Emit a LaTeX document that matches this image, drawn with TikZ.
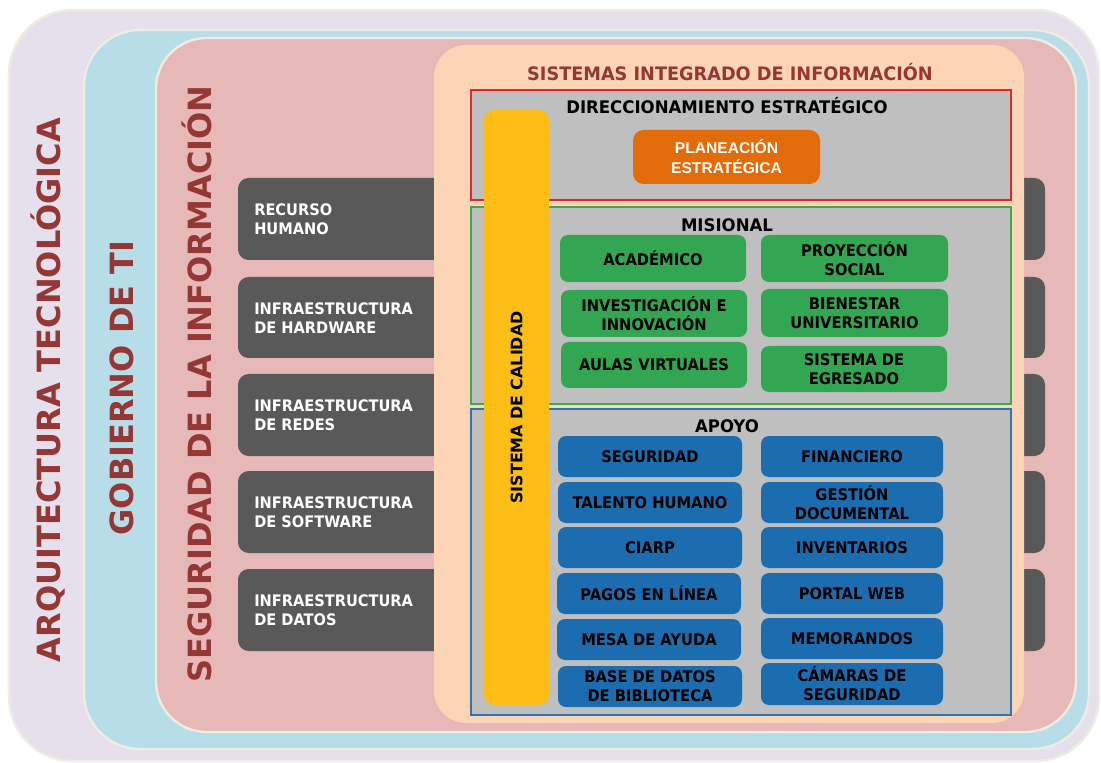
\documentclass[tikz,border=0pt]{standalone}
\usepackage{fontspec}
\setmainfont{DejaVu Sans}
\newfontfamily\arialfont{Liberation Sans}
\newfontfamily\lblfont{DejaVu Sans}[FakeStretch=0.92]
\newfontfamily\secfont{DejaVu Sans}[FakeStretch=0.955]
\usetikzlibrary{fit}
\definecolor{lav}{HTML}{E5E0EC}
\definecolor{cream}{HTML}{EEEDE0}
\definecolor{lblue}{HTML}{B7DEE8}
\definecolor{lpink}{HTML}{E6B8B7}
\definecolor{peach}{HTML}{FCD5B6}
\definecolor{dgray}{HTML}{595959}
\definecolor{dred}{HTML}{953735}
\definecolor{sgray}{HTML}{BFBFBF}
\definecolor{sred}{HTML}{E3262A}
\definecolor{sgreen}{HTML}{3BAA4C}
\definecolor{sblue}{HTML}{2E75B6}
\definecolor{gbox}{HTML}{33A654}
\definecolor{bbox}{HTML}{1C6CB0}
\definecolor{obox}{HTML}{E36C0A}
\definecolor{ybar}{HTML}{FBBD16}
\tikzset{
  layer/.style={inner sep=0pt, draw=cream, line width=1.8pt},
  rowbox/.style={inner sep=0pt, fill=dgray, rounded corners=8pt},
  rowtext/.style={anchor=west, align=left, text=white, inner sep=0pt, font=\lblfont\bfseries\fontsize{11.9}{14.25}\selectfont},
  section/.style={inner sep=0pt, fill=sgray, line width=1.4pt},
  sectitle/.style={inner sep=0pt, font=\secfont\bfseries\fontsize{13}{15}\selectfont},
  lbl/.style={inner sep=0pt, align=center, font=\lblfont\bfseries\fontsize{12}{14.25}\selectfont},
  gbx/.style={inner sep=0pt, fill=gbox, rounded corners=6pt, label={[lbl]center:{#1}}},
  bbx/.style={inner sep=0pt, fill=bbox, rounded corners=6pt, label={[lbl]center:{#1}}},
  bigtext/.style={rotate=90, text=dred, inner sep=0pt, font=\bfseries\fontsize{24}{28}\selectfont},
}
\begin{document}
\begin{tikzpicture}[x=0.75pt,y=-0.75pt]
\useasboundingbox (0,0) rectangle (1101,763);
\fill[white] (0,0) rectangle (1101,763);
% nested layers
\node[layer, fill=lav, rounded corners=48pt, fit={(9,10)(1099,761)}] (arq) {};
\node[layer, fill=lblue, rounded corners=42pt, fit={(84,30)(1089,749)}] (gob) {};
\node[layer, fill=lpink, rounded corners=38pt, fit={(156,38)(1076,732)}] (seg) {};
% gray rows (behind peach)
\node[rowbox, fit={(238,178)(1045,260)}] (r1) {};
\node[rowbox, fit={(238,277)(1045,358)}] (r2) {};
\node[rowbox, fit={(238,374)(1045,456)}] (r3) {};
\node[rowbox, fit={(238,471)(1045,553)}] (r4) {};
\node[rowbox, fit={(238,569)(1045,651)}] (r5) {};
\node[rowtext] (t1) at (254,219) {RECURSO\\HUMANO};
\node[rowtext] (t2) at (254,318) {INFRAESTRUCTURA\\DE HARDWARE};
\node[rowtext] (t3) at (254,415) {INFRAESTRUCTURA\\DE REDES};
\node[rowtext] (t4) at (254,512) {INFRAESTRUCTURA\\DE SOFTWARE};
\node[rowtext] (t5) at (254,610) {INFRAESTRUCTURA\\DE DATOS};
% peach
\node[inner sep=0pt, fill=peach, rounded corners=24pt, fit={(434,45)(1024,723)}] (sis) {};
\node[inner sep=0pt, text=dred, font=\secfont\bfseries\fontsize{13.9}{16}\selectfont] (sistitle) at (730,72) {SISTEMAS INTEGRADO DE INFORMACIÓN};
% vertical titles
\node[bigtext] (arqt) at (48,390) {ARQUITECTURA TECNOLÓGICA};
\node[bigtext] (gobt) at (122,388) {GOBIERNO DE TI};
\node[bigtext] (segt) at (197,384) {SEGURIDAD DE LA INFORMACIÓN};
% sections
\node[section, draw=sred, fit={(471,90)(1011,200)}] (dir) {};
\node[section, draw=sgreen, fit={(471,207)(1011,404)}] (mis) {};
\node[section, draw=sblue, fit={(471,409)(1011,715)}] (apo) {};
\node[sectitle] (dirt) at (727,106) {DIRECCIONAMIENTO ESTRATÉGICO};
\node[sectitle] (mist) at (727,225) {MISIONAL};
\node[sectitle] (apot) at (727,426) {APOYO};
% planeacion
\node[inner sep=0pt, fill=obox, rounded corners=8pt, fit={(633,130)(820,184)}, label={[inner sep=0pt, text=white, align=center, font=\arialfont\bfseries\fontsize{11.7}{15}\selectfont]center:{PLANEACIÓN\\ESTRATÉGICA}}] (plan) {};
% yellow bar
\node[inner sep=0pt, fill=ybar, rounded corners=8pt, fit={(484,110)(549,705)}] (cal) {};
\node[rotate=90, inner sep=0pt, font=\bfseries\fontsize{11.9}{14}\selectfont] (calt) at (cal.center) {SISTEMA DE CALIDAD};
% misional boxes
\node[gbx={ACADÉMICO}, fit={(560,235)(746,282)}] (m1) {};
\node[gbx={PROYECCIÓN\\SOCIAL}, fit={(761,235)(948,282)}] (m2) {};
\node[gbx={INVESTIGACIÓN E\\INNOVACIÓN}, fit={(561,290)(747,337)}] (m3) {};
\node[gbx={BIENESTAR\\UNIVERSITARIO}, fit={(761,289)(948,337)}] (m4) {};
\node[gbx={AULAS VIRTUALES}, fit={(561,342)(747,388)}] (m5) {};
\node[gbx={SISTEMA DE\\EGRESADO}, fit={(761,346)(947,392)}] (m6) {};
% apoyo boxes
\node[bbx={SEGURIDAD}, fit={(558,436)(742,477)}] (a1) {};
\node[bbx={FINANCIERO}, fit={(761,436)(943,477)}] (a2) {};
\node[bbx={TALENTO HUMANO}, fit={(558,482)(742,523)}] (a3) {};
\node[bbx={GESTIÓN\\DOCUMENTAL}, fit={(761,482)(943,523)}] (a4) {};
\node[bbx={CIARP}, fit={(558,527)(742,568)}] (a5) {};
\node[bbx={INVENTARIOS}, fit={(761,527)(943,568)}] (a6) {};
\node[bbx={PAGOS EN LÍNEA}, fit={(557,573)(741,614)}] (a7) {};
\node[bbx={PORTAL WEB}, fit={(761,573)(943,614)}] (a8) {};
\node[bbx={MESA DE AYUDA}, fit={(557,619)(741,660)}] (a9) {};
\node[bbx={MEMORANDOS}, fit={(761,618)(943,659)}] (a10) {};
\node[bbx={BASE DE DATOS\\DE BIBLIOTECA}, fit={(558,666)(742,707)}] (a11) {};
\node[bbx={CÁMARAS DE\\SEGURIDAD}, fit={(761,663)(943,705)}] (a12) {};
\end{tikzpicture}
\end{document}
